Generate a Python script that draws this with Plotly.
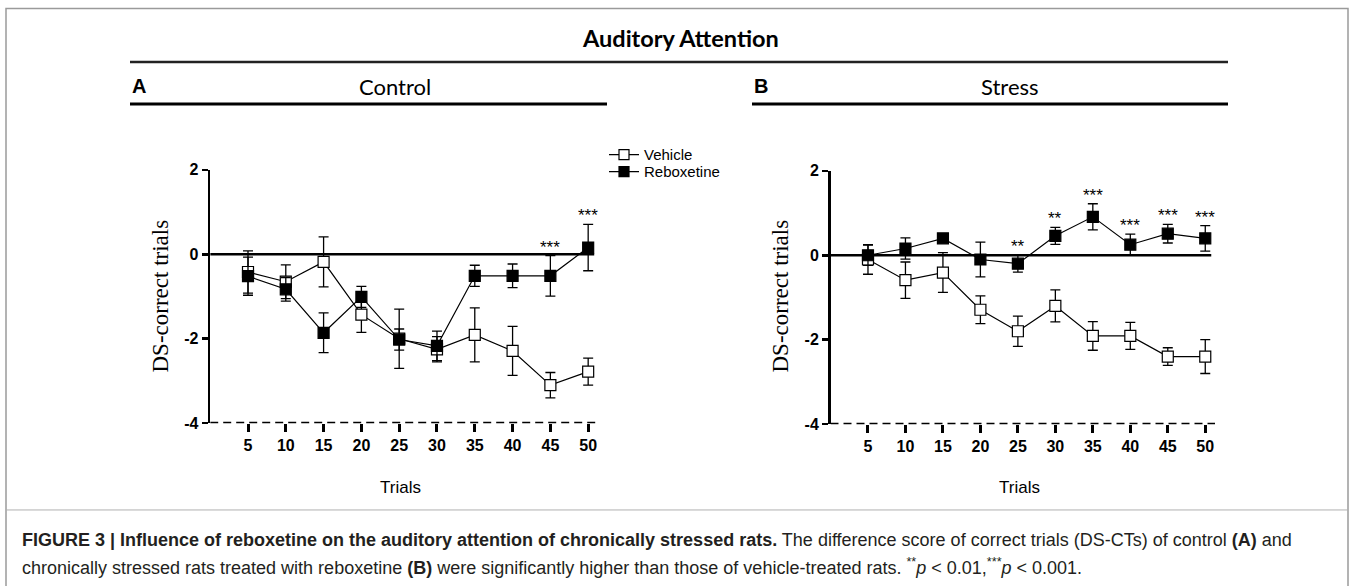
import plotly.graph_objects as go

W, H = 1354, 586

trials = [5, 10, 15, 20, 25, 30, 35, 40, 45, 50]
tick_labels = ["5", "10", "15", "20", "25", "30", "35", "40", "45", "50"]

# Panel A: Control
ctrl_vehicle = [-0.42, -0.65, -0.18, -1.43, -2.0, -2.25, -1.91, -2.29, -3.1, -2.78]
ctrl_vehicle_err = [0.5, 0.4, 0.59, 0.42, 0.7, 0.3, 0.64, 0.58, 0.3, 0.32]
ctrl_rebox = [-0.52, -0.83, -1.86, -1.01, -2.02, -2.17, -0.51, -0.51, -0.51, 0.16]
ctrl_rebox_err = [0.45, 0.28, 0.47, 0.25, 0.25, 0.35, 0.25, 0.28, 0.48, 0.55]
ctrl_sig = ["", "", "", "", "", "", "", "", "***", "***"]

# Panel B: Stress
stress_vehicle = [-0.1, -0.59, -0.41, -1.29, -1.8, -1.2, -1.91, -1.91, -2.4, -2.4]
stress_vehicle_err = [0.35, 0.43, 0.47, 0.33, 0.36, 0.38, 0.34, 0.32, 0.21, 0.4]
stress_rebox = [0.0, 0.16, 0.4, -0.1, -0.2, 0.46, 0.91, 0.25, 0.51, 0.4]
stress_rebox_err = [0.24, 0.25, 0.05, 0.41, 0.2, 0.2, 0.31, 0.25, 0.22, 0.3]
stress_sig = ["", "", "", "", "**", "**", "***", "***", "***", "***"]

y_ticks = [-4, -2, 0, 2]
y_tick_labels = ["-4", "-2", "0", "2"]
x_range = [0, 51.3]
y_range = [-4, 2]

# vertical calibration of the capture (empirical)
V_SCALE = 586 / 602
V_OFF = 8 * V_SCALE

def px_x(p):
    return p / W

def px_y(t):
    p = (t - V_OFF) / V_SCALE
    return 1 - p / H

fig = go.Figure()

panels = [
    ("x", "y", ctrl_vehicle, ctrl_vehicle_err, ctrl_rebox, ctrl_rebox_err, ctrl_sig),
    ("x2", "y2", stress_vehicle, stress_vehicle_err, stress_rebox, stress_rebox_err, stress_sig),
]

for xa, ya, veh, veh_e, reb, reb_e, sig in panels:
    fig.add_trace(go.Scatter(
        x=trials, y=veh, xaxis=xa, yaxis=ya, mode="lines+markers",
        line=dict(color="black", width=1.2),
        marker=dict(symbol="square", size=11, color="white", line=dict(color="black", width=1.2)),
        error_y=dict(type="data", array=veh_e, color="black", thickness=1.3, width=5),
        showlegend=False, cliponaxis=False))
    fig.add_trace(go.Scatter(
        x=trials, y=reb, xaxis=xa, yaxis=ya, mode="lines+markers",
        line=dict(color="black", width=1.2),
        marker=dict(symbol="square", size=11, color="black", line=dict(color="black", width=1.2)),
        error_y=dict(type="data", array=reb_e, color="black", thickness=1.3, width=5),
        showlegend=False, cliponaxis=False))
    for xv, yv, ev, s in zip(trials, reb, reb_e, sig):
        if s:
            fig.add_annotation(x=xv, y=yv + ev, xref=xa, yref=ya, text=s, showarrow=False,
                               xanchor="center", yanchor="bottom", yshift=-3,
                               font=dict(family="Liberation Sans, Arial", size=17, color="black"))
    # zero line
    fig.add_shape(type="line", xref=xa, yref=ya, x0=0, x1=50.8, y0=0, y1=0,
                  line=dict(color="black", width=2.5), layer="below")
    # dashed bottom axis
    fig.add_shape(type="line", xref=xa, yref=ya, x0=0, x1=x_range[1], y0=-4, y1=-4,
                  line=dict(color="black", width=3, dash="8px,5px"))

# legend-only traces (one legend box per entry for exact spacing)
fig.add_trace(go.Scatter(x=[None], y=[None], name="Vehicle", mode="lines+markers", legend="legend",
                         line=dict(color="black", width=1.2),
                         marker=dict(symbol="square", size=10, color="white", line=dict(color="black", width=1.2))))
fig.add_trace(go.Scatter(x=[None], y=[None], name="Reboxetine", mode="lines+markers", legend="legend2",
                         line=dict(color="black", width=1.2),
                         marker=dict(symbol="square", size=10, color="black", line=dict(color="black", width=1.2))))

tick_font = dict(family="Liberation Sans, Arial", size=16, color="black", weight="bold")
xaxis_common = dict(range=x_range, tickvals=trials, ticktext=tick_labels, showline=False,
                    showgrid=False, zeroline=False, ticks="outside", ticklen=8, tickwidth=3,
                    tickcolor="black", tickfont=tick_font, fixedrange=True)
yaxis_common = dict(range=y_range, tickvals=y_ticks, ticktext=y_tick_labels, showline=True,
                    linecolor="black", linewidth=2.5, showgrid=False, zeroline=False,
                    ticks="outside", ticklen=6, tickwidth=2.5, tickcolor="black",
                    tickfont=tick_font, fixedrange=True)

legend_common = dict(xanchor="left", yanchor="middle",
                     font=dict(family="Liberation Sans, Arial", size=15, color="black"),
                     bgcolor="rgba(0,0,0,0)", itemwidth=30, tracegroupgap=0)

fig.update_layout(
    width=W, height=H,
    margin=dict(l=0, r=0, t=0, b=0),
    paper_bgcolor="white", plot_bgcolor="white",
    xaxis=dict(domain=[px_x(210.2), px_x(598)], anchor="y", **xaxis_common),
    yaxis=dict(domain=[px_y(424), px_y(170)], anchor="x", **yaxis_common),
    xaxis2=dict(domain=[px_x(830.5), px_x(1215)], anchor="y2", **xaxis_common),
    yaxis2=dict(domain=[px_y(425), px_y(171)], anchor="x2", **yaxis_common),
    legend=dict(x=px_x(604), y=px_y(155), **legend_common),
    legend2=dict(x=px_x(604), y=px_y(172), **legend_common),
    showlegend=True,
)

head_font = "Lato, Open Sans, sans-serif"

def text_at(x, y, text, font, xanchor="center", yanchor="middle", angle=0):
    fig.add_annotation(x=px_x(x), y=px_y(y), xref="paper", yref="paper", text=text,
                       xanchor=xanchor, yanchor=yanchor, textangle=angle,
                       showarrow=False, font=font)

# Title and headers
text_at(680, 38, "<b>Auditory Attention</b>", dict(family=head_font, size=23.5, color="black"))
text_at(130, 86, "<b>A</b>", dict(family="Liberation Sans, Arial", size=20, color="black"), xanchor="left")
text_at(752, 86, "<b>B</b>", dict(family="Liberation Sans, Arial", size=20, color="black"), xanchor="left")
text_at(395, 86, "Control", dict(family=head_font, size=22, color="black"))
text_at(1010, 86, "Stress", dict(family=head_font, size=22, color="black"))

# axis titles
for cx in (160, 780):
    text_at(cx, 297, "DS-correct trials",
            dict(family="Liberation Serif, Times New Roman", size=23, color="black"), angle=-90)
for cx in (400, 1020):
    text_at(cx, 488, "Trials", dict(family="Liberation Sans, Arial", size=17, color="black"))

# header rules
fig.add_shape(type="line", xref="paper", yref="paper", x0=px_x(130), x1=px_x(1228), y0=px_y(62), y1=px_y(62),
              line=dict(color="#222222", width=2.5))
fig.add_shape(type="line", xref="paper", yref="paper", x0=px_x(130), x1=px_x(607), y0=px_y(104), y1=px_y(104),
              line=dict(color="black", width=3))
fig.add_shape(type="line", xref="paper", yref="paper", x0=px_x(752), x1=px_x(1228), y0=px_y(104), y1=px_y(104),
              line=dict(color="black", width=3))

# frame and caption separator
fig.add_shape(type="rect", xref="paper", yref="paper", x0=px_x(6), x1=px_x(1348), y0=px_y(640), y1=min(px_y(5), 0.999),
              line=dict(color="#9a9a9a", width=1.5))
fig.add_shape(type="line", xref="paper", yref="paper", x0=px_x(6), x1=px_x(1348), y0=px_y(511), y1=px_y(511),
              line=dict(color="#b0b0b0", width=1))

cap_font = dict(family="Liberation Sans Narrow, Arial Narrow, Liberation Sans", size=18, color="#231f20")
cap1 = ("<b>FIGURE 3 | Influence of reboxetine on the auditory attention of chronically stressed rats.</b> "
        "The difference score of correct trials (DS-CTs) of control <b>(A)</b> and")
cap2 = ("chronically stressed rats treated with reboxetine <b>(B)</b> were significantly higher than those of "
        "vehicle-treated rats. <sup>**</sup><i>p</i> &lt; 0.01,<sup>***</sup><i>p</i> &lt; 0.001.")
text_at(20, 541, cap1, cap_font, xanchor="left")
text_at(20, 568, cap2, cap_font, xanchor="left")

post = (
    "var h=document.documentElement, b=document.body;"
    "h.style.margin='0';h.style.padding='0';"
    "b.style.margin='0';b.style.padding='0';"
)
fig.write_html("out.html", config={"displayModeBar": False, "staticPlot": True}, post_script=post)
